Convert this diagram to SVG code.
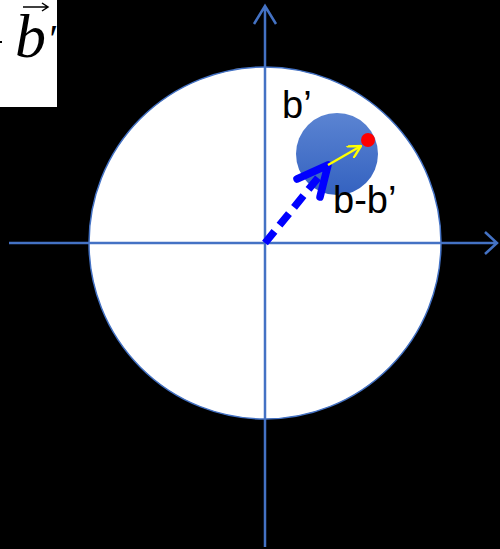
<svg xmlns="http://www.w3.org/2000/svg" width="500" height="549" viewBox="0 0 500 549">
<defs>
<style>
.axis{stroke:#4472C4;stroke-width:2.5;fill:none}
.lbl{font-family:"Liberation Sans",Arial,sans-serif;font-size:38px;fill:#000}
</style>
<linearGradient id="g" x1="0" y1="0" x2="0" y2="1">
<stop offset="0" stop-color="#5b84d2"/>
<stop offset="1" stop-color="#3462c0"/>
</linearGradient>
<marker id="ya" viewBox="0 0 14 14" refX="13" refY="7" markerWidth="14" markerHeight="14" markerUnits="userSpaceOnUse" orient="auto">
<path d="M0,0 L13,7 L0,14" fill="none" stroke="#ffff00" stroke-width="2.4"/>
</marker>
</defs>
<rect width="500" height="549" fill="#000"/>
<g id="formula">
<rect x="0" y="0" width="57" height="107" fill="#fff"/>
<text x="15" y="57" font-family="Liberation Serif,serif" font-style="italic" font-size="62" fill="#000">b<tspan font-size="40" dx="1" dy="-5">′</tspan></text>
<path d="M23,7 H47 M42,3 L48,7 L42,11" stroke="#000" stroke-width="1.5" fill="none"/>
<rect x="0" y="41" width="2" height="2" fill="#000"/>
</g>
<g id="big-circle">
<circle cx="265" cy="243" r="176" fill="#fff" stroke="#4472C4" stroke-width="1.5"/>
</g>
<g id="connectors">
<path class="axis" d="M9,243 H497 M485,232 L497,243 L485,254"/>
<path class="axis" d="M265,547 V6 M254,24 L265,6 L276,24"/>
</g>
<g id="small-circle">
<circle cx="337" cy="154" r="41" fill="url(#g)"/>
</g>
<g id="dashed-arrow">
<line x1="265" y1="243" x2="326" y2="168" stroke="#0000ff" stroke-width="7.5" stroke-dasharray="15 8"/>
<path d="M297,179 L328,165 L320,197" stroke="#0000ff" stroke-width="7.5" fill="none" stroke-linecap="round" stroke-linejoin="round"/>
</g>
<g id="yellow-arrow">
<line x1="328" y1="165" x2="361" y2="146" stroke="#ffff00" stroke-width="2.4" marker-end="url(#ya)"/>
</g>
<g id="red-dot">
<circle cx="368" cy="140" r="7" fill="#ff0000"/>
</g>
<text class="lbl" x="282" y="118">b’</text>
<text class="lbl" x="333" y="213">b-b’</text>
</svg>
